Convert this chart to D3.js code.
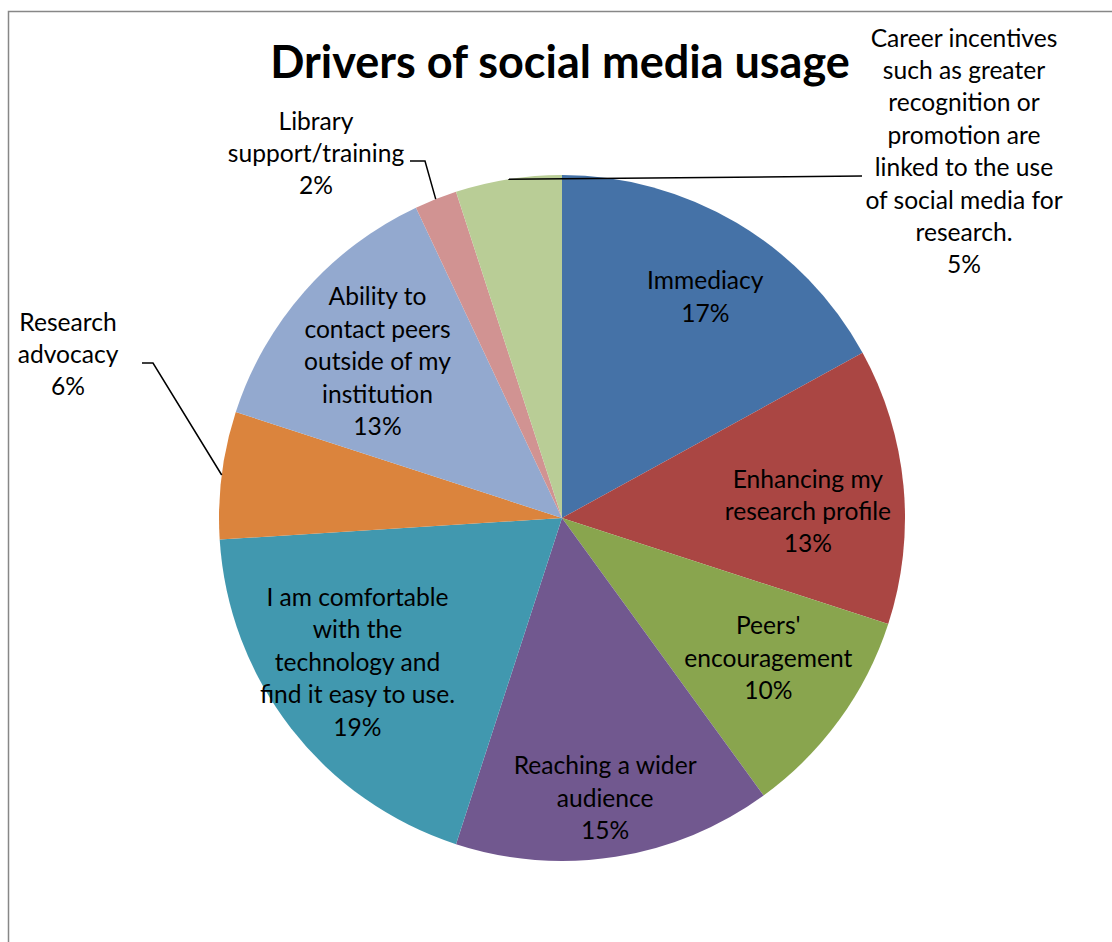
<!DOCTYPE html>
<html>
<head>
<meta charset="utf-8">
<script src="https://cdn.jsdelivr.net/npm/d3@7"></script>
<style>
  html, body { margin: 0; padding: 0; background: #fff; }
  svg { display: block; }
  text { font-family: Lato, "Open Sans", sans-serif; fill: #000; }
</style>
</head>
<body>
<svg id="chart" width="1112" height="942"></svg>
<script>
// Survey responses: share of each driver (percent)
const categories = [
  "Immediacy",
  "Enhancing my research profile",
  "Peers' encouragement",
  "Reaching a wider audience",
  "I am comfortable with the technology and find it easy to use.",
  "Research advocacy",
  "Ability to contact peers outside of my institution",
  "Library support/training",
  "Career incentives such as greater recognition or promotion are linked to the use of social media for research."
];
const values = [17, 13, 10, 15, 19, 6, 13, 2, 5];

// Wrapped label lines for each slice
const labelLines = [
  ["Immediacy"],
  ["Enhancing my", "research profile"],
  ["Peers'", "encouragement"],
  ["Reaching a wider", "audience"],
  ["I am comfortable", "with the", "technology and", "find it easy to use."],
  ["Research", "advocacy"],
  ["Ability to", "contact peers", "outside of my", "institution"],
  ["Library", "support/training"],
  ["Career incentives", "such as greater", "recognition or", "promotion are", "linked to the use", "of social media for", "research."]
];

const colors = ["#4572A7", "#AA4643", "#89A54E", "#71588F", "#4198AF",
                "#DB843D", "#93A9CF", "#D19392", "#B9CD96"];

const W = 1112, H = 942;
const cx = 562, cy = 518, R = 343;
const lineH = 32.4;

const svg = d3.select("#chart");

// chart frame (left and top edges)
svg.append("path")
  .attr("d", `M8.5,${H} L8.5,11.5 L${W},11.5`)
  .attr("fill", "none")
  .attr("stroke", "#878787")
  .attr("stroke-width", 1.5);

svg.append("text")
  .attr("x", 560)
  .attr("y", 78)
  .attr("text-anchor", "middle")
  .style("font-weight", "bold")
  .style("font-size", "45px")
  .text("Drivers of social media usage");

const data = categories.map((c, i) => ({ name: c, value: values[i], lines: labelLines[i], color: colors[i] }));

const pie = d3.pie().value(d => d.value).sort(null);
const arcs = pie(data);
const arc = d3.arc().innerRadius(0).outerRadius(R);

const g = svg.append("g").attr("transform", `translate(${cx},${cy})`);

g.selectAll("path.slice")
  .data(arcs)
  .join("path")
  .attr("class", "slice")
  .attr("d", arc)
  .attr("fill", d => d.data.color);

// label placement: inside labels follow the slice bisector,
// outside labels sit in the margin with leader lines
const insideR = 250;
const inside = {
  0: [16, -6], 1: [-3, 17], 2: [4, -7], 3: [4, 33], 4: [-7, -9], 6: [3, 9]
};
const outside = {
  5: { x: 68 - cx, y: 322 - cy, elbow: [[142 - cx, 363 - cy], [153 - cx, 363 - cy]] },
  7: { x: 316 - cx, y: 121 - cy, elbow: [[410 - cx, 161 - cy], [425 - cx, 161 - cy]] },
  8: { x: 964 - cx, y: 38 - cy, elbow: [[862 - cx, 176 - cy]] }
};

const fmt = v => v + "%";

arcs.forEach((a, i) => {
  const mid = (a.startAngle + a.endAngle) / 2;
  const lines = a.data.lines.concat([fmt(a.data.value)]);
  let x0, yTop;
  if (inside[i]) {
    const [nx, ny] = inside[i];
    x0 = insideR * Math.sin(mid) + nx;
    const yc = -insideR * Math.cos(mid) + ny;
    yTop = yc - (lines.length - 1) * lineH / 2;
  } else {
    const o = outside[i];
    x0 = o.x;
    yTop = o.y;
    const edge = [R * Math.sin(mid), -R * Math.cos(mid)];
    const pts = o.elbow.concat([edge]);
    g.append("path")
      .attr("d", d3.line()(pts))
      .attr("fill", "none")
      .attr("stroke", "#000")
      .attr("stroke-width", 1.5);
  }
  const t = g.append("text")
    .attr("text-anchor", "middle")
    .style("font-size", "24.6px");
  lines.forEach((ln, k) => {
    t.append("tspan")
      .attr("x", x0)
      .attr("y", yTop + k * lineH)
      .attr("dy", "0.35em")
      .text(ln);
  });
});
</script>
</body>
</html>
